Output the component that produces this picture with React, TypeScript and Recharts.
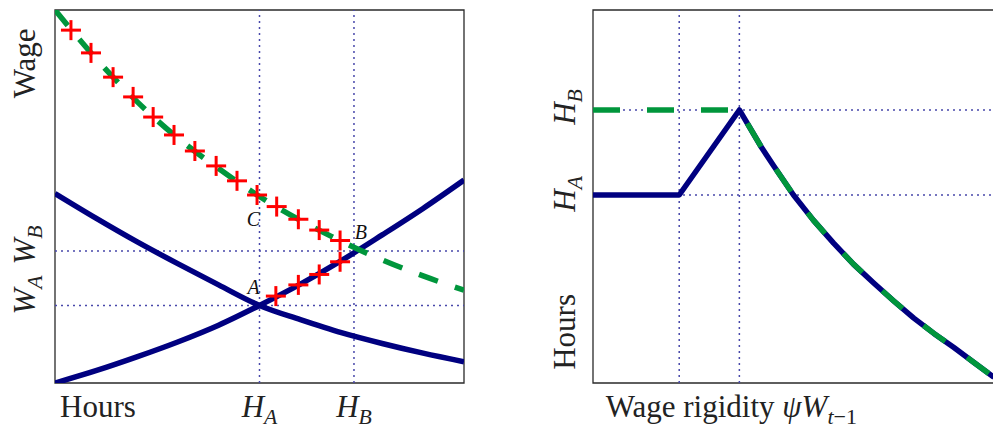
import {
  ComposedChart,
  Line,
  Scatter,
  XAxis,
  YAxis,
  ReferenceLine,
  ReferenceArea,
  ReferenceDot,
} from "recharts";

// ---- left panel: wage vs hours ----
const hoursGrid = [0, 0.1, 0.2, 0.3, 0.4, 0.5, 0.6, 0.7, 0.8, 0.9, 1];
const supplyWage = [0, 0.033, 0.07, 0.11, 0.155, 0.208, 0.265, 0.328, 0.397, 0.468, 0.544];
const demandWage = [0.508, 0.442, 0.379, 0.32, 0.263, 0.208, 0.17, 0.135, 0.106, 0.08, 0.057];
const rigidWage = [1, 0.87, 0.755, 0.657, 0.575, 0.5, 0.436, 0.38, 0.33, 0.287, 0.249];

const crossHours = [0.039, 0.088, 0.142, 0.191, 0.24, 0.291, 0.342, 0.394, 0.445, 0.494, 0.542, 0.595, 0.646, 0.697];
const crossWage = [0.946, 0.885, 0.82, 0.767, 0.713, 0.665, 0.622, 0.582, 0.542, 0.504, 0.473, 0.439, 0.41, 0.382];
const lowerCrossHours = [0.54, 0.595, 0.646, 0.697];
const lowerCrossWage = [0.233, 0.263, 0.291, 0.325];

const H_A = 0.5;
const H_B = 0.731;
const W_A = 0.208;
const W_B = 0.354;

const leftXTicks = [0.105, H_A, H_B];
const leftXLabels = [["Hours", ""], ["H", "A"], ["H", "B"]];
const leftYTicks = [0.236, 0.37, 0.857];
const leftYLabels = [["W", "A"], ["W", "B"], ["Wage", ""]];

// ---- right panel: hours vs wage rigidity ----
const rigidity = [0, 0.215, 0.365, 0.42, 0.45, 0.5, 0.55, 0.6, 0.65, 0.7, 0.75, 0.8, 0.85, 0.9, 0.95, 1];
const hoursFlexible = [0.504, 0.504, 0.732, 0.632, 0.583, 0.504, 0.436, 0.375, 0.318, 0.268, 0.22, 0.174, 0.133, 0.095, 0.055, 0.015];
const hoursRigid = [0.732, 0.732, 0.732, 0.632, 0.583, 0.504, 0.436, 0.375, 0.318, 0.268, 0.22, 0.174, 0.133, 0.095, 0.055, 0.015];
const RIG_1 = 0.215;
const RIG_2 = 0.365;
const HOURS_A = 0.504;
const HOURS_B = 0.732;

const rightXTicks = [0.345];
const rightYTicks = [0.137, 0.507, 0.74];
const rightYLabels = [["Hours", ""], ["H", "A"], ["H", "B"]];

const NAVY = "#000080";
const GREEN = "#00963c";
const RED = "#ff0000";
const GRID = "#4848aa";
const FONT = "'Liberation Serif', 'Times New Roman', serif";

const zip = (xs: number[], ys: number[]) => xs.map((x, i) => ({ x, y: ys[i] }));

function MathText({ parts, size }: { parts: string[]; size: number }) {
  const [main, sub] = parts;
  const italic = main.length === 1;
  return (
    <>
      <tspan fontStyle={italic ? "italic" : "normal"}>{main}</tspan>
      {sub ? (
        <tspan fontStyle="italic" fontSize={size * 0.7} dy={size * 0.22}>
          {sub}
        </tspan>
      ) : null}
    </>
  );
}

function makeXTick(ticks: number[], labels: string[][]) {
  return (props: any) => {
    const i = ticks.indexOf(props.payload.value);
    if (i < 0) return <g />;
    return (
      <text x={props.x} y={417} textAnchor="middle" fontFamily={FONT} fontSize={31} fill="#222">
        <MathText parts={labels[i]} size={31} />
      </text>
    );
  };
}

function makeYTick(ticks: number[], labels: string[][], baseX: number) {
  return (props: any) => {
    const i = ticks.indexOf(props.payload.value);
    if (i < 0) return <g />;
    const y = props.y;
    return (
      <text
        x={baseX}
        y={y}
        transform={`rotate(-90, ${baseX}, ${y})`}
        textAnchor="middle"
        fontFamily={FONT}
        fontSize={31}
        fill="#222"
      >
        <MathText parts={labels[i]} size={31} />
      </text>
    );
  };
}

function RightXTick(props: any) {
  return (
    <text x={props.x} y={417} textAnchor="middle" fontFamily={FONT} fontSize={31} fill="#222">
      <tspan>Wage rigidity </tspan>
      <tspan fontStyle="italic">ψW</tspan>
      <tspan fontStyle="italic" fontSize={22} dy={7}>
        t
      </tspan>
      <tspan fontSize={22}>−1</tspan>
    </text>
  );
}

function Cross(props: any) {
  const { cx, cy } = props;
  return (
    <g stroke={RED} strokeWidth={3}>
      <line x1={cx - 10} x2={cx + 10} y1={cy} y2={cy} />
      <line x1={cx} x2={cx} y1={cy - 10} y2={cy + 10} />
    </g>
  );
}

function PointLabel(text: string, dx: number, dy: number) {
  return (props: any) => {
    const vb = props.viewBox;
    return (
      <text
        x={vb.x + vb.width / 2 + dx}
        y={vb.y + vb.height / 2 + dy}
        textAnchor="middle"
        fontFamily={FONT}
        fontStyle="italic"
        fontSize={20}
        fill="#111"
      >
        {text}
      </text>
    );
  };
}

const gridLine = { stroke: GRID, strokeWidth: 1.5, strokeDasharray: "2 4" };

function LeftPanel() {
  return (
    <ComposedChart width={470} height={431} margin={{ top: 10, right: 6, left: 0, bottom: 0 }}>
      <XAxis
        type="number"
        dataKey="x"
        domain={[0, 1]}
        ticks={leftXTicks}
        tick={makeXTick(leftXTicks, leftXLabels)}
        axisLine={false}
        tickLine={false}
        height={48}
        allowDataOverflow
        interval={0}
      />
      <YAxis
        type="number"
        dataKey="y"
        domain={[0, 1]}
        ticks={leftYTicks}
        tick={makeYTick(leftYTicks, leftYLabels, 35)}
        axisLine={false}
        tickLine={false}
        width={55}
        allowDataOverflow
        interval={0}
      />
      <ReferenceArea x1={0} x2={1} y1={0} y2={1} fill="none" stroke="#2a2a2a" strokeWidth={1.3} />
      <ReferenceLine x={H_A} {...gridLine} />
      <ReferenceLine x={H_B} {...gridLine} />
      <ReferenceLine y={W_A} {...gridLine} />
      <ReferenceLine y={W_B} {...gridLine} />
      <Line
        data={zip(hoursGrid, supplyWage)}
        dataKey="y"
        type="monotone"
        stroke={NAVY}
        strokeWidth={5.5}
        dot={false}
        isAnimationActive={false}
      />
      <Line
        data={zip(hoursGrid, demandWage)}
        dataKey="y"
        type="monotone"
        stroke={NAVY}
        strokeWidth={5.5}
        dot={false}
        isAnimationActive={false}
      />
      <Line
        data={zip(hoursGrid, rigidWage)}
        dataKey="y"
        type="monotone"
        stroke={GREEN}
        strokeWidth={5.5}
        strokeDasharray="20 18"
        dot={false}
        isAnimationActive={false}
      />
      <Scatter data={zip(crossHours, crossWage)} dataKey="y" shape={Cross} isAnimationActive={false} />
      <Scatter data={zip(lowerCrossHours, lowerCrossWage)} dataKey="y" shape={Cross} isAnimationActive={false} />
      <ReferenceDot x={H_A} y={W_A} r={0} fill="none" stroke="none" label={PointLabel("A", -6, -11)} />
      <ReferenceDot x={H_B} y={W_B} r={0} fill="none" stroke="none" label={PointLabel("B", 7, -12)} />
      <ReferenceDot x={H_A} y={0.5} r={0} fill="none" stroke="none" label={PointLabel("C", -6, 29)} />
    </ComposedChart>
  );
}

function RightPanel() {
  return (
    <ComposedChart width={456} height={431} margin={{ top: 10, right: 0, left: 0, bottom: 0 }}>
      <XAxis
        type="number"
        dataKey="x"
        domain={[0, 1]}
        ticks={rightXTicks}
        tick={RightXTick}
        axisLine={false}
        tickLine={false}
        height={48}
        allowDataOverflow
        interval={0}
      />
      <YAxis
        type="number"
        dataKey="y"
        domain={[0, 1]}
        ticks={rightYTicks}
        tick={makeYTick(rightYTicks, rightYLabels, 37)}
        axisLine={false}
        tickLine={false}
        width={55}
        allowDataOverflow
        interval={0}
      />
      <ReferenceArea x1={0} x2={1} y1={0} y2={1} fill="none" stroke="#2a2a2a" strokeWidth={1.3} />
      <ReferenceLine x={RIG_1} {...gridLine} />
      <ReferenceLine x={RIG_2} {...gridLine} />
      <ReferenceLine y={HOURS_A} {...gridLine} />
      <ReferenceLine y={HOURS_B} {...gridLine} />
      <Line
        data={zip(rigidity, hoursFlexible)}
        dataKey="y"
        type="linear"
        stroke={NAVY}
        strokeWidth={5.5}
        strokeLinejoin="round"
        dot={false}
        isAnimationActive={false}
      />
      <Line
        data={zip(rigidity, hoursRigid)}
        dataKey="y"
        type="linear"
        stroke={GREEN}
        strokeWidth={5.5}
        strokeDasharray="27 27"
        dot={false}
        isAnimationActive={false}
      />
    </ComposedChart>
  );
}

export default function App() {
  return (
    <div style={{ position: "absolute", left: 0, top: 0, width: 993, height: 431, background: "#fff" }}>
      <div style={{ position: "absolute", left: 0, top: 0 }}>
        <LeftPanel />
      </div>
      <div style={{ position: "absolute", left: 538, top: 0 }}>
        <RightPanel />
      </div>
    </div>
  );
}
